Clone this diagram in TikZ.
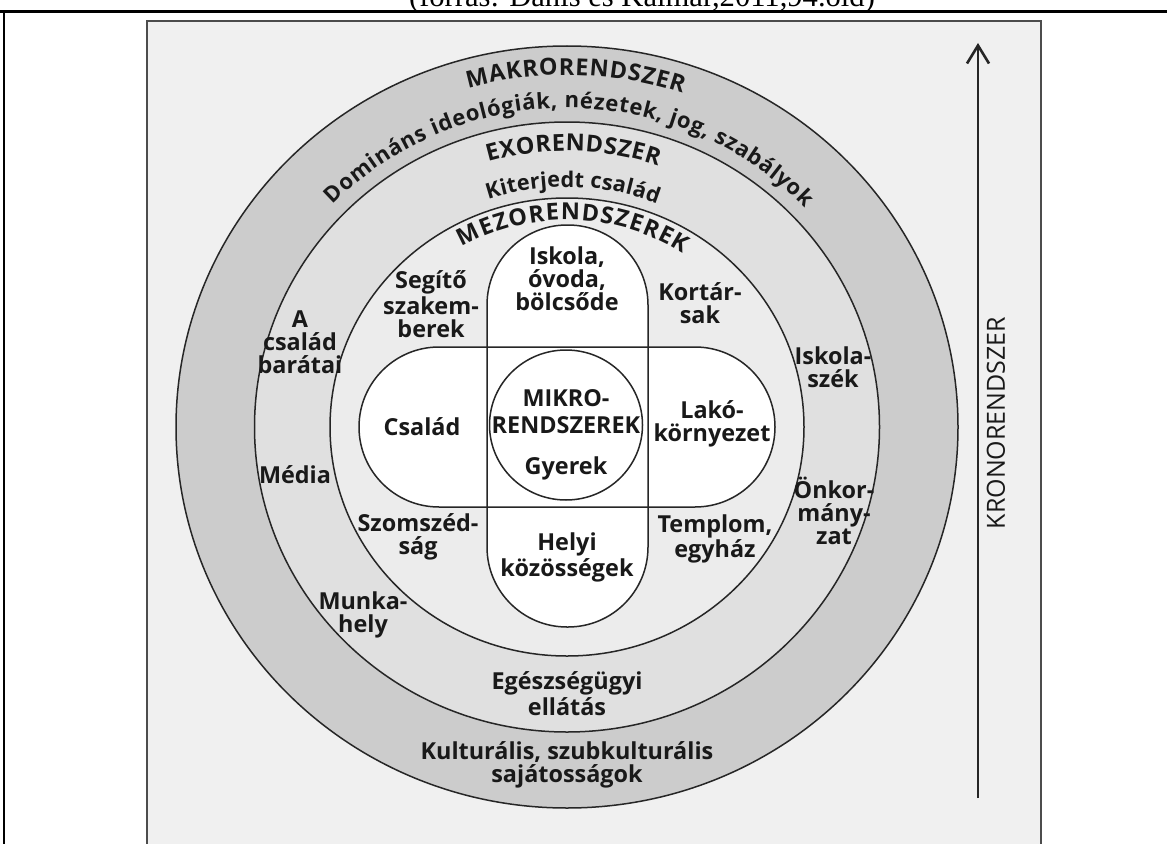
\documentclass[tikz,border=0pt]{standalone}
\usepackage{fontspec}
\setmainfont{Open Sans}
\newfontfamily\titlefont{Liberation Serif}
\newfontfamily\kronofont{Open Sans}
\usetikzlibrary{decorations.text,arrows.meta}
\newcommand\lblfont{\bfseries\fontsize{11.7}{11.5}\selectfont}
\newcommand\arcfontA{\bfseries\fontsize{11.7}{12}\selectfont}
\newcommand\arcfontB{\bfseries\fontsize{11}{12}\selectfont}
\newcommand\arcfontC{\bfseries\fontsize{10.8}{12}\selectfont}
\begin{document}
\begin{tikzpicture}[x=0.5pt,y=0.5pt,
  lbl/.style={font=\lblfont, align=center, inner sep=0pt, text=black!90},
  ring/.style={draw=black!85, line width=0.75pt},
  pill/.style={draw=black!85, line width=0.75pt, rounded corners=40pt},
  arctext/.style={decorate, decoration={text along path, text align=fit to path, text color=black!90}},
  frameline/.style={draw=black, line width=1.5pt},
]
\useasboundingbox (0,0) rectangle (1167,843);
\clip (0,0) rectangle (1167,843);
\fill[white] (0,0) rectangle (1167,843);

% caption (cut by the top edge)
\node[font=\titlefont\fontsize{15.3}{18}\selectfont, anchor=base, inner sep=0pt] (title) at (642,836) {(forrás: Danis és Kalmár,2011,94.old)};

% page frame
\draw[frameline] (0,831) -- (1167,831);
\draw[black, line width=1pt] (4,831) -- (4,-2);

% scanned figure background
\filldraw[fill=gray!12, draw=gray!60!black, line width=0.6pt] (147,-5) rectangle (1041,822);

% rings
\filldraw[ring, fill=gray!40] (567,416) ellipse [x radius=391, y radius=381];
\filldraw[ring, fill=gray!24] (567,416) ellipse [x radius=312.5, y radius=305];
\filldraw[ring, fill=gray!15] (567,416) ellipse [x radius=237, y radius=229];

% pills
\fill[white, rounded corners=40pt] (359,336) rectangle (775,496);
\fill[white, rounded corners=40pt] (487,216) rectangle (648,618);
\draw[pill] (359,336) rectangle (775,496);
\draw[pill] (487,216) rectangle (648,618);

% micro circle
\filldraw[ring, fill=white] (566,418) ellipse [x radius=76.5, y radius=75];

% curved texts
\path[arctext, shift={(567,416)}, decoration={text={|\arcfontA|MAKRORENDSZER}}]
  (105.9:361 and 352) arc[start angle=105.9, end angle=71.3, x radius=361, y radius=352];
\path[arctext, shift={(567,416)}, decoration={text={|\arcfontB|Domináns ideológiák, nézetek, jog, szabályok}}]
  (135.7:327 and 319) arc[start angle=135.7, end angle=43.3, x radius=327, y radius=319];
\path[arctext, shift={(567,416)}, decoration={text={|\arcfontA|EXORENDSZER}}]
  (106.2:283 and 276) arc[start angle=106.2, end angle=71.2, x radius=283, y radius=276];
\path[arctext, shift={(567,416)}, decoration={text={|\arcfontC|Kiterjedt család}}]
  (108.7:246 and 240) arc[start angle=108.7, end angle=68.5, x radius=246, y radius=240];
\path[arctext, shift={(567,416)}, decoration={text={|\arcfontA|MEZORENDSZEREK}}]
  (119.7:212 and 207) arc[start angle=119.7, end angle=56.8, x radius=212, y radius=207];

% labels
\node[lbl] (iskola) at (567,564) {Iskola,\\óvoda,\\bölcsőde};
\node[lbl] (segito) at (431,539) {Segítő\\szakem-\\berek};
\node[lbl] (kortars) at (700,539.5) {Kortár-\\sak};
\node[lbl] (barat) at (300,501) {A\\család\\barátai};
\node[lbl] (iskolaszek) at (833,475.5) {Iskola-\\szék};
\node[lbl] (csalad) at (422,416) {Család};
\node[lbl] (mikro) at (566,445) {MIKRO-};
\node[lbl] (rendszerek) at (566,418) {RENDSZEREK};
\node[lbl] (gyerek) at (566,375) {Gyerek};
\node[lbl] (lako) at (712,419) {Lakó-\\környezet};
\node[lbl] (media) at (295,368) {Média};
\node[lbl] (onkor) at (834,332.5) {Önkor-\\mány-\\zat};
\node[lbl] (szomszed) at (418,306.5) {Szomszéd-\\ság};
\node[lbl] (templom) at (715,304) {Templom,\\egyház};
\node[lbl] (helyi) at (567,285.5) {Helyi\\közösségek};
\node[lbl] (munka) at (363,228.5) {Munka-\\hely};
\node[lbl] (egeszseg) at (567,149.5) {Egészségügyi\\ellátás};
\node[lbl] (kultura) at (567,78) {Kulturális, szubkulturális\\sajátosságok};

% chronosystem arrow
\coordinate (kbot) at (978,45);
\coordinate (ktop) at (978,800);
\draw[line width=1.3pt, black!85, -{Straight Barb[length=9pt,width=11pt]}] (kbot) -- (ktop);
\node[font=\kronofont\fontsize{12.5}{14}\selectfont, rotate=90, inner sep=0pt, text=black!90] (krono) at (996,420) {KRONORENDSZER};
\end{tikzpicture}
\end{document}
